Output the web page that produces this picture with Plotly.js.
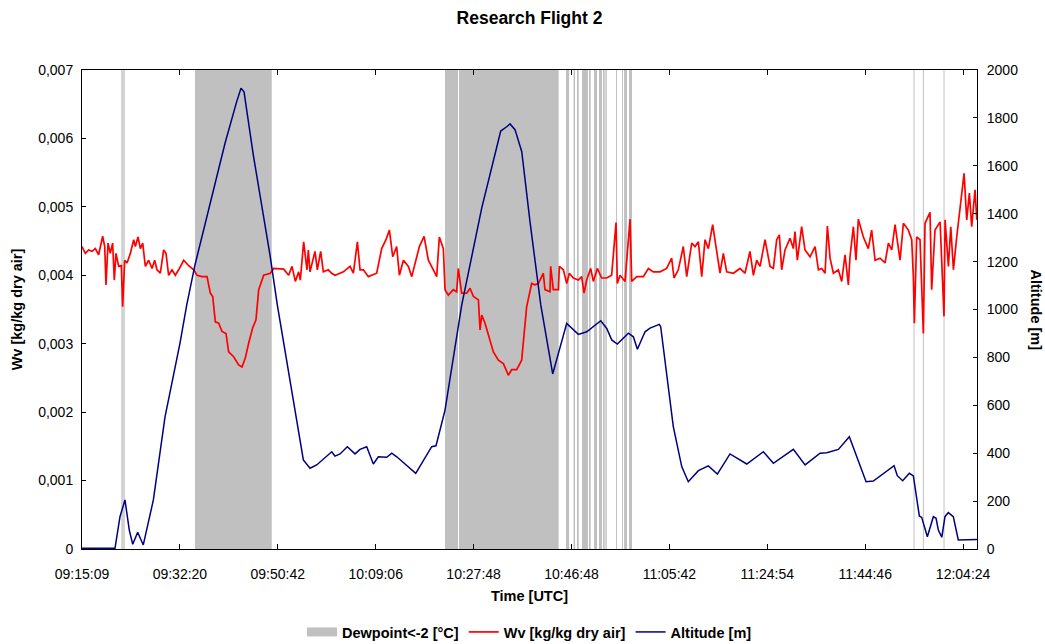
<!DOCTYPE html>
<html>
<head>
<meta charset="utf-8">
<script src="https://cdn.plot.ly/plotly-3.0.1.min.js"></script>
<style>
  html, body { margin: 0; padding: 0; background: #fff; }
  #chart { width: 1045px; height: 644px; }
</style>
</head>
<body>
<div id="chart"></div>
<script>
// Research Flight 2: water vapour mixing ratio and altitude along the record index,
// with the periods where the dewpoint dropped below -2 °C shaded.

// x-axis tick labels (one every 1000 records)
const tickRecords = [0, 1000, 2000, 3000, 4000, 5000, 6000, 7000, 8000, 9000];
const tickTimes = ["09:15:09", "09:32:20", "09:50:42", "10:09:06", "10:27:48",
                   "10:46:48", "11:05:42", "11:24:54", "11:44:46", "12:04:24"];
const lastRecord = 9142;

// Records where dewpoint < -2 °C (start / end of each run)
const dewStart = [402, 422, 1154, 3708, 3851, 4944, 5021, 5056, 5107, 5179, 5230,
                  5281, 5322, 5346, 5455, 5516, 5537, 5588, 8494, 8589, 8800];
const dewEnd   = [416, 436, 1938, 3841, 4869, 4975, 5036, 5074, 5168, 5196, 5261,
                  5312, 5339, 5360, 5465, 5526, 5567, 5618, 8504, 8599, 8810];

// Wv [kg/kg dry air]
const wvRecord = [0, 34, 68, 102, 136, 170, 211, 232, 245, 266, 289, 313, 330, 347, 375, 402, 415, 436,
  460, 494, 528, 545, 572, 596, 620, 647, 681, 715, 742, 766, 800, 834, 858, 885, 919, 953, 987,
  1039, 1090, 1141, 1175, 1226, 1277, 1311, 1335, 1362, 1396, 1430, 1471, 1498, 1549, 1600, 1634,
  1668, 1703, 1743, 1777, 1805, 1856, 1924, 1958, 2009, 2060, 2111, 2145, 2179, 2213, 2230, 2264,
  2298, 2312, 2329, 2380, 2404, 2438, 2465, 2516, 2550, 2585, 2670, 2738, 2772, 2813, 2840, 2874,
  2925, 3010, 3061, 3105, 3140, 3174, 3214, 3242, 3283, 3334, 3368, 3446, 3494, 3538, 3589, 3623,
  3650, 3691, 3708, 3742, 3793, 3827, 3844, 3878, 3930, 3964, 3998, 4049, 4066, 4083, 4117, 4168,
  4202, 4253, 4304, 4355, 4389, 4440, 4491, 4542, 4576, 4593, 4627, 4661, 4712, 4729, 4780, 4787,
  4814, 4866, 4876, 4917, 4951, 4978, 5019, 5070, 5104, 5128, 5155, 5196, 5223, 5264, 5308, 5359,
  5410, 5455, 5468, 5496, 5547, 5598, 5615, 5666, 5734, 5785, 5836, 5904, 5972, 6023, 6047, 6091,
  6142, 6177, 6228, 6262, 6296, 6330, 6364, 6398, 6442, 6483, 6517, 6551, 6585, 6653, 6721, 6772,
  6823, 6858, 6892, 6926, 6977, 7028, 7062, 7096, 7123, 7147, 7181, 7232, 7266, 7283, 7307, 7351,
  7385, 7437, 7488, 7522, 7556, 7590, 7614, 7641, 7675, 7726, 7760, 7794, 7828, 7845, 7879, 7906,
  7930, 7981, 8032, 8066, 8101, 8152, 8203, 8237, 8271, 8305, 8356, 8390, 8441, 8475, 8492, 8502,
  8526, 8560, 8594, 8611, 8662, 8679, 8713, 8765, 8805, 8816, 8850, 8874, 8901, 8935, 8976, 9010,
  9037, 9064, 9088, 9122, 9140];
const wvValue = [0.00442, 0.00432, 0.00437, 0.00435, 0.00439, 0.00430, 0.00457, 0.00442, 0.00386,
  0.00447, 0.00432, 0.00447, 0.00393, 0.00432, 0.00413, 0.00414, 0.00354, 0.00422, 0.00418, 0.00432,
  0.00452, 0.00442, 0.00456, 0.00439, 0.00447, 0.00413, 0.00422, 0.00410, 0.00422, 0.00408, 0.00403,
  0.00437, 0.00432, 0.00400, 0.00408, 0.00400, 0.00408, 0.00422, 0.00414, 0.00408, 0.00400, 0.00398,
  0.00398, 0.00374, 0.00369, 0.00332, 0.00330, 0.00318, 0.00315, 0.00288, 0.00281, 0.00269, 0.00266,
  0.00279, 0.00301, 0.00323, 0.00335, 0.00379, 0.00400, 0.00403, 0.00410, 0.00409, 0.00409, 0.00400,
  0.00413, 0.00391, 0.00405, 0.00393, 0.00449, 0.00408, 0.00437, 0.00405, 0.00435, 0.00408, 0.00435,
  0.00405, 0.00408, 0.00403, 0.00400, 0.00405, 0.00413, 0.00403, 0.00449, 0.00408, 0.00408, 0.00398,
  0.00403, 0.00439, 0.00452, 0.00466, 0.00427, 0.00442, 0.00400, 0.00422, 0.00413, 0.00398, 0.00442,
  0.00457, 0.00422, 0.00408, 0.00398, 0.00456, 0.00439, 0.00379, 0.00371, 0.00379, 0.00376, 0.00410,
  0.00374, 0.00374, 0.00381, 0.00369, 0.00364, 0.00320, 0.00342, 0.00330, 0.00305, 0.00288, 0.00276,
  0.00271, 0.00254, 0.00262, 0.00262, 0.00276, 0.00354, 0.00376, 0.00388, 0.00386, 0.00388, 0.00403,
  0.00379, 0.00376, 0.00413, 0.00379, 0.00379, 0.00413, 0.00408, 0.00388, 0.00403, 0.00396, 0.00393,
  0.00398, 0.00374, 0.00393, 0.00410, 0.00391, 0.00410, 0.00396, 0.00396, 0.00400, 0.00477, 0.00388,
  0.00400, 0.00391, 0.00482, 0.00391, 0.00398, 0.00398, 0.00410, 0.00405, 0.00405, 0.00410, 0.00425,
  0.00396, 0.00408, 0.00442, 0.00398, 0.00447, 0.00442, 0.00449, 0.00398, 0.00452, 0.00439, 0.00474,
  0.00437, 0.00403, 0.00432, 0.00405, 0.00403, 0.00410, 0.00403, 0.00435, 0.00400, 0.00422, 0.00413,
  0.00452, 0.00413, 0.00410, 0.00452, 0.00459, 0.00408, 0.00437, 0.00454, 0.00439, 0.00464, 0.00422,
  0.00471, 0.00437, 0.00427, 0.00442, 0.00408, 0.00410, 0.00403, 0.00472, 0.00425, 0.00403, 0.00408,
  0.00391, 0.00430, 0.00386, 0.00427, 0.00471, 0.00422, 0.00482, 0.00456, 0.00439, 0.00466, 0.00422,
  0.00425, 0.00418, 0.00447, 0.00437, 0.00474, 0.00422, 0.00476, 0.00466, 0.00452, 0.00398, 0.00330,
  0.00456, 0.00452, 0.00315, 0.00476, 0.00492, 0.00379, 0.00466, 0.00478, 0.00340, 0.00481, 0.00413,
  0.00471, 0.00408, 0.00456, 0.00510, 0.00549, 0.00481, 0.00520, 0.00471, 0.00525, 0.00481];

// Altitude [m]
const altRecord = [0, 337, 388, 439, 483, 518, 569, 626, 729, 848, 1001, 1070, 1154, 1410, 1461, 1580,
  1624, 1655, 1750, 1920, 1995, 2261, 2329, 2397, 2551, 2584, 2636, 2710, 2789, 2840, 2908, 2976,
  3027, 3113, 3164, 3215, 3409, 3572, 3616, 3708, 3828, 3879, 4083, 4201, 4277, 4338, 4372, 4423,
  4492, 4576, 4686, 4808, 4876, 4951, 5070, 5156, 5299, 5360, 5411, 5468, 5581, 5632, 5673, 5751,
  5802, 5897, 5911, 6040, 6126, 6193, 6296, 6398, 6490, 6619, 6790, 6960, 7062, 7164, 7266, 7386,
  7539, 7607, 7726, 7838, 7914, 8009, 8083, 8185, 8295, 8328, 8383, 8451, 8492, 8553, 8577, 8635,
  8696, 8724, 8747, 8782, 8815, 8849, 8900, 8951, 9142];
const altValue = [3, 3, 135, 205, 79, 20, 70, 17, 205, 552, 860, 1019, 1186, 1617, 1694, 1868,
  1924, 1909, 1645, 1228, 1019, 372, 337, 351, 406, 388, 397, 427, 397, 416, 427, 355,
  385, 383, 400, 385, 316, 427, 431, 580, 901, 1019, 1423, 1617, 1745, 1763, 1775, 1751,
  1659, 1367, 1019, 731, 831, 942, 896, 907, 953, 921, 873, 856, 901, 886, 834, 907,
  922, 938, 928, 511, 344, 281, 327, 347, 313, 397, 355, 406, 358, 388, 416, 351,
  400, 402, 416, 469, 385, 281, 284, 316, 348, 306, 285, 316, 305, 138, 132, 51,
  135, 128, 79, 49, 135, 152, 135, 38, 40];

// Left-axis tick labels use a decimal comma
const wvTicks = [0, 0.001, 0.002, 0.003, 0.004, 0.005, 0.006, 0.007];
const wvTickText = ["0", "0,001", "0,002", "0,003", "0,004", "0,005", "0,006", "0,007"];

const FONT = "Liberation Sans, Arial, Helvetica, sans-serif";
const SHADE = "#c0c0c0";

const shadeShapes = dewStart.map((s, i) => ({
  type: "rect", xref: "x", yref: "paper",
  x0: s, x1: dewEnd[i], y0: 0, y1: 1,
  fillcolor: SHADE, line: { width: 0 }, layer: "below"
}));

const traces = [
  { // legend entry for the shaded periods
    x: [null], y: [null], type: "scatter", mode: "lines",
    name: "Dewpoint&lt;-2 [°C]",
    line: { color: SHADE, width: 9 },
    hoverinfo: "skip"
  },
  {
    x: wvRecord, y: wvValue, type: "scatter", mode: "lines",
    name: "Wv [kg/kg dry air]", yaxis: "y",
    line: { color: "#ff0000", width: 1.7 }
  },
  {
    x: altRecord, y: altValue, type: "scatter", mode: "lines",
    name: "Altitude [m]", yaxis: "y2",
    line: { color: "#000080", width: 1.5 }
  }
];

const layout = {
  width: 1045, height: 644,
  margin: { l: 82, r: 68, t: 70, b: 95, autoexpand: false },
  paper_bgcolor: "#fff", plot_bgcolor: "#fff",
  font: { family: FONT, size: 14, color: "#000" },
  showlegend: true,
  title: {
    text: "Research Flight 2",
    font: { family: FONT, size: 17.5, weight: "bold", color: "#000" },
    x: 0.5, xref: "paper", y: 1 - 18 / 644, yref: "container", yanchor: "middle"
  },
  xaxis: {
    range: [0, lastRecord],
    tickvals: tickRecords, ticktext: tickTimes,
    ticks: "inside", ticklen: 5, tickcolor: "#000",
    ticklabelstandoff: 12,
    showline: true, linecolor: "#000", linewidth: 1, mirror: "ticks",
    showgrid: false, zeroline: false,
    tickfont: { family: FONT, size: 14 },
    title: { text: "Time [UTC]", font: { family: FONT, size: 14.5, weight: "bold" }, standoff: 10 }
  },
  yaxis: {
    range: [0, 0.007],
    tickvals: wvTicks, ticktext: wvTickText,
    ticks: "inside", ticklen: 4, tickcolor: "#000",
    ticklabelstandoff: 5,
    showline: true, linecolor: "#000", linewidth: 1,
    showgrid: false, zeroline: false,
    tickfont: { family: FONT, size: 14 },
    title: { text: "Wv [kg/kg dry air]", font: { family: FONT, size: 14.5, weight: "bold" }, standoff: 12 }
  },
  yaxis2: {
    range: [0, 2000], dtick: 200,
    overlaying: "y", side: "right",
    ticks: "inside", ticklen: 4, tickcolor: "#000",
    ticklabelstandoff: 6,
    showline: true, linecolor: "#000", linewidth: 1,
    showgrid: false, zeroline: false,
    tickfont: { family: FONT, size: 14 }
  },
  legend: {
    orientation: "h", x: 0.5, xanchor: "center",
    y: (549 - 632) / 479, yanchor: "middle",
    font: { family: FONT, size: 14.5, weight: "bold", color: "#000" },
    bgcolor: "rgba(0,0,0,0)"
  },
  annotations: [{
    text: "Altitude [m]", textangle: 90,
    xref: "paper", yref: "paper", x: 1, y: 0.5,
    xanchor: "center", yanchor: "middle", xshift: 59, showarrow: false,
    font: { family: FONT, size: 14.5, weight: "bold", color: "#000" }
  }],
  shapes: shadeShapes
};

Plotly.newPlot("chart", traces, layout, { displayModeBar: false, staticPlot: true });
</script>
</body>
</html>
